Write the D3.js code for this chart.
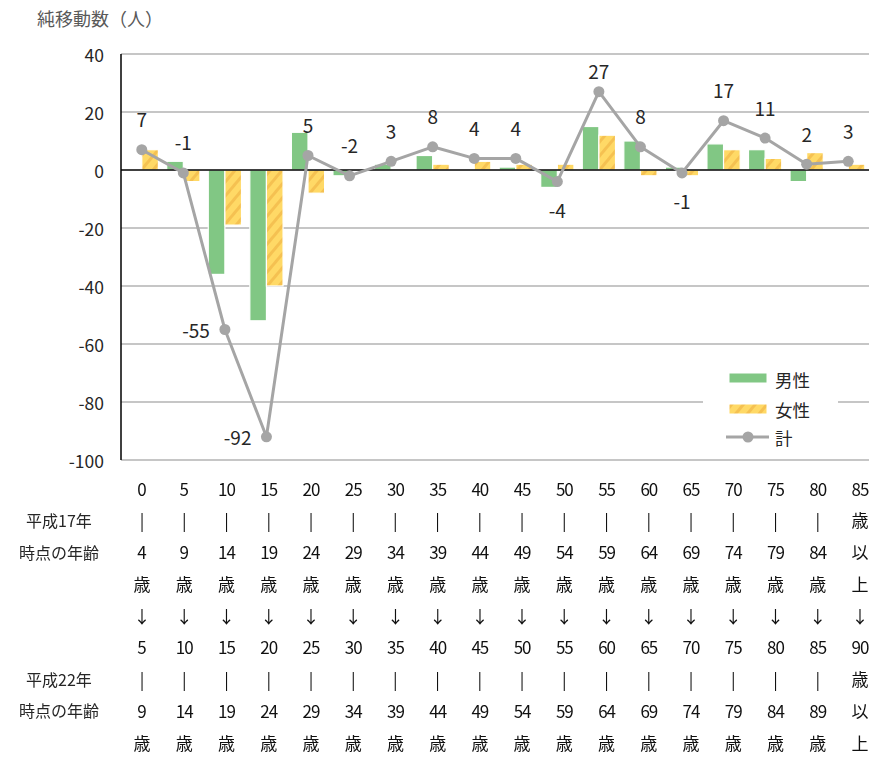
<!DOCTYPE html>
<html lang="ja">
<head>
<meta charset="utf-8">
<script src="https://cdn.jsdelivr.net/npm/d3@7"></script>
<style>
  html, body { margin: 0; padding: 0; background: #fff; }
  svg { display: block; font-family: "Noto Sans CJK JP", "Noto Sans", sans-serif; }
  .gray { filter: grayscale(1); }
</style>
</head>
<body>
<svg id="chart" width="874" height="758"></svg>
<script>
// 年齢階級（平成17年→22年の5歳階級）
const categories = ["0-4","5-9","10-14","15-19","20-24","25-29","30-34","35-39","40-44",
  "45-49","50-54","55-59","60-64","65-69","70-74","75-79","80-84","85+"];

// 純移動数（人）
const male   = [0, 3, -36, -52, 13, -2, 2, 5, 0, 1, -6, 15, 10, 1, 9, 7, -4, 0];
const female = [7, -4, -19, -40, -8, 0, 0, 2, 3, 2, 2, 12, -2, -2, 7, 4, 6, 2];
const total  = [7, -1, -55, -92, 5, -2, 3, 8, 4, 4, -4, 27, 8, -1, 17, 11, 2, 3];

// 合計ラベルの配置（t:上, tn:上・近め, b:下, l:左）
const labelPlace = ["t","t","l","l","t","t","t","t","t","t","b","tn","t","b","t","t","t","t"];

const yTicks = [40, 20, 0, -20, -40, -60, -80, -100];
const seriesNames = ["男性", "女性", "計"];

// 下部の年齢対応表
const from17 = ["0","5","10","15","20","25","30","35","40","45","50","55","60","65","70","75","80","85"];
const to17   = ["4","9","14","19","24","29","34","39","44","49","54","59","64","69","74","79","84"];
const from22 = ["5","10","15","20","25","30","35","40","45","50","55","60","65","70","75","80","85","90"];
const to22   = ["9","14","19","24","29","34","39","44","49","54","59","64","69","74","79","84","89"];
const rowHeads = [["平成17年", 1], ["時点の年齢", 2], ["平成22年", 6], ["時点の年齢", 7]];

const svg = d3.select("#chart");
const plot = { left: 121, right: 869, top: 54, bottom: 460 };

const x0 = d3.scaleBand().domain(categories).range([plot.left, plot.right])
  .paddingInner(0.2).paddingOuter(0.1);
const x1 = d3.scaleBand().domain(["男性", "女性"]).range([0, x0.bandwidth()]);
const y = d3.scaleLinear().domain([-100, 40]).range([plot.bottom, plot.top]);
const cx = c => x0(c) + x0.bandwidth() / 2;

// 女性の斜線パターン
const defs = svg.append("defs");
const pat = defs.append("pattern").attr("id", "stripe")
  .attr("patternUnits", "userSpaceOnUse").attr("width", 9).attr("height", 9)
  .attr("patternTransform", "rotate(40)");
pat.append("rect").attr("width", 9).attr("height", 9).attr("fill", "#FFD966");
pat.append("rect").attr("x", 0).attr("width", 3).attr("height", 9).attr("fill", "#F3BC4C").attr("opacity", 0.8);

// 目盛線
svg.append("g").selectAll("line").data(yTicks.filter(v => v !== 0)).join("line")
  .attr("x1", plot.left).attr("x2", plot.right)
  .attr("y1", d => y(d)).attr("y2", d => y(d))
  .attr("stroke", "#B3B3B3").attr("stroke-width", 1.5);

// 縦軸ラベル
svg.append("g").selectAll("text").data(yTicks).join("text")
  .attr("x", 104).attr("y", d => y(d)).attr("text-anchor", "end")
  .attr("dominant-baseline", "central").attr("font-size", 17.5).attr("fill", "#262626")
  .text(d => d);

// 軸タイトル
svg.append("text").attr("x", 37).attr("y", 18).attr("dominant-baseline", "central")
  .attr("font-size", 18).attr("fill", "#595959").text("純移動数（人）");

// 棒グラフ
const bars = svg.append("g");
const barData = [];
categories.forEach((c, i) => {
  barData.push({ c, s: "男性", v: male[i] });
  barData.push({ c, s: "女性", v: female[i] });
});
bars.selectAll("rect").data(barData.filter(d => d.v !== 0)).join("rect")
  .attr("x", d => x0(d.c) + x1(d.s))
  .attr("width", x1.bandwidth())
  .attr("y", d => Math.min(y(0), y(d.v)))
  .attr("height", d => Math.abs(y(d.v) - y(0)))
  .attr("fill", d => d.s === "男性" ? "#81C784" : "url(#stripe)")
  .attr("stroke", "#fff").attr("stroke-width", 1.2);

// 横軸（0）と縦軸
svg.append("line").attr("x1", plot.left).attr("x2", plot.right)
  .attr("y1", y(0)).attr("y2", y(0)).attr("stroke", "#000").attr("stroke-width", 1.5);
svg.append("line").attr("x1", plot.left).attr("x2", plot.left)
  .attr("y1", plot.top).attr("y2", plot.bottom).attr("stroke", "#000").attr("stroke-width", 1.5);

// 計の折れ線
const line = d3.line().x((d, i) => cx(categories[i])).y(d => y(d));
svg.append("path").datum(total).attr("d", line)
  .attr("fill", "none").attr("stroke", "#A5A5A5").attr("stroke-width", 3)
  .attr("stroke-linejoin", "round");
svg.append("g").selectAll("circle").data(total).join("circle")
  .attr("cx", (d, i) => cx(categories[i])).attr("cy", d => y(d)).attr("r", 5.5)
  .attr("fill", "#A5A5A5");

// データラベル
svg.append("g").selectAll("text").data(total).join("text")
  .attr("x", (d, i) => {
    const p = labelPlace[i], px = cx(categories[i]);
    return p === "l" ? px - 15 : px;
  })
  .attr("y", (d, i) => {
    const p = labelPlace[i], py = y(d);
    if (p === "t") return py - 31;
    if (p === "tn") return py - 21;
    if (p === "b") return py + 28;
    return py;
  })
  .attr("text-anchor", (d, i) => labelPlace[i] === "l" ? "end" : "middle")
  .attr("dominant-baseline", "central")
  .attr("font-size", 19).attr("fill", "#262626")
  .text(d => d);

// 凡例
const lg = svg.append("g");
lg.append("rect").attr("x", 703).attr("y", 360).attr("width", 135).attr("height", 92).attr("fill", "#fff");
lg.append("rect").attr("x", 729).attr("y", 373).attr("width", 38).attr("height", 10)
  .attr("fill", "#81C784").attr("stroke", "#fff").attr("stroke-width", 1);
lg.append("rect").attr("x", 729).attr("y", 404).attr("width", 38).attr("height", 10)
  .attr("fill", "url(#stripe)").attr("stroke", "#fff").attr("stroke-width", 1);
lg.append("line").attr("x1", 726).attr("x2", 769).attr("y1", 437).attr("y2", 437)
  .attr("stroke", "#A5A5A5").attr("stroke-width", 3);
lg.append("circle").attr("cx", 748).attr("cy", 437).attr("r", 5.5).attr("fill", "#A5A5A5");
lg.selectAll("text.lab").data(seriesNames).join("text").attr("class", "lab")
  .attr("x", 775).attr("y", (d, i) => [379, 409, 437][i])
  .attr("dominant-baseline", "central").attr("font-size", 17.5).attr("fill", "#262626")
  .text(d => d);

// 年齢対応表
const tx = d3.scalePoint().domain(categories).range([142, 860]);
const rowY = d3.scalePoint().domain(d3.range(9)).range([488, 742]);
const cellRows = categories.map((c, i) => i < categories.length - 1
  ? [from17[i], "|", to17[i], "歳", "↓", from22[i], "|", to22[i], "歳"]
  : [from17[i], "歳", "以", "上", "↓", from22[i], "歳", "以", "上"]);
const table = svg.append("g").attr("class", "gray").attr("font-size", 17).attr("fill", "#111");
categories.forEach((c, i) => {
  table.append("g").selectAll("text").data(cellRows[i]).join("text")
    .attr("x", tx(c)).attr("y", (d, r) => rowY(r))
    .attr("text-anchor", "middle").attr("dominant-baseline", "central")
    .attr("letter-spacing", d => d.length > 1 ? -1 : 0)
    .text(d => d);
});
table.append("g").selectAll("text").data(rowHeads).join("text")
  .attr("x", 59).attr("y", d => rowY(d[1])).attr("text-anchor", "middle")
  .attr("dominant-baseline", "central").attr("font-size", 16).attr("fill", "#262626")
  .text(d => d[0]);
</script>
</body>
</html>
